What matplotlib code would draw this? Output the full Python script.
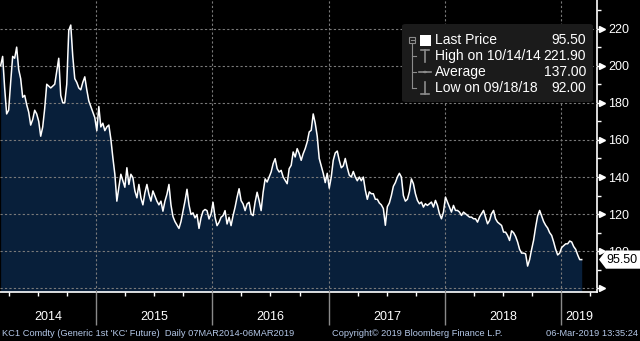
import numpy as np
import pandas as pd
import matplotlib
matplotlib.use("Agg")
import matplotlib.pyplot as plt
import matplotlib.dates as mdates
import matplotlib.transforms as mtransforms
from matplotlib.patches import Polygon, Rectangle, FancyBboxPatch, Circle
from matplotlib.lines import Line2D

plt.rcParams['font.family'] = ['Liberation Sans', 'DejaVu Sans']

# KC1 Comdty closes, sampled at an even step from 07MAR2014 to 06MAR2019
price = [
    200, 205, 188, 174, 176, 191, 205, 204, 210, 198, 193, 183, 184, 179, 175, 168, 171, 176, 174, 170,
    162, 167, 177, 190, 189, 188, 189, 190, 197, 204, 184, 180, 180, 190, 219, 221.9, 205, 193, 191, 188,
    187, 191, 194, 187, 181, 178, 175, 172, 165, 178,
    167, 169, 165, 167, 168, 160.5, 150.5, 141.5, 127, 134.5, 141.5, 138, 134.5, 145, 136, 141.5, 139.7,
    132.5, 128.8, 136, 128.8, 125, 131.5, 136, 130.7, 127, 132.5, 129.8, 127, 125, 127, 121.6, 127, 130.7,
    136, 125, 118.7, 116, 114.1, 112.3, 116, 121.6, 127, 133.4, 125, 119.8, 120.7, 118, 119.8, 112.3, 118,
    121.6, 122.5,
    121.9, 117.4, 120.1, 126.4, 118.3, 113.8, 115.6, 118.3, 119.2, 121.9, 114.7, 118.3, 113.8, 119.2, 123.7,
    129.1, 133.7, 127.3, 125.5, 121.9, 125.5, 126.4, 120.1, 119.2, 126.4, 131.8, 127.3, 121.9, 131.8, 139,
    137.3, 140, 142.7, 147.2, 149.9, 144.5, 142.7, 143.6, 140, 138.2, 136.4, 144.5, 146.3, 153.5, 150.8,
    155.3, 152.6, 149, 152.6, 155.3, 158.9, 164.3, 165.2,
    174, 169, 162, 150, 146, 142, 137, 142, 134, 140, 149, 153, 154, 149, 145, 146, 150, 145, 141, 140,
    143, 140, 138, 140, 138, 140, 133, 128, 132, 131, 131, 128, 128, 126, 125, 123, 114, 124, 126, 130,
    135, 137, 140, 142, 140, 130, 127, 128, 132, 139,
    136.4, 131, 127.4, 125.6, 126.5, 123.8, 125.6, 124.7, 125.6, 126.5, 123.8, 127.4, 124.7, 120.2, 117.5,
    121.1, 129.2, 126.5, 123.8, 121.1, 124.7, 122, 122, 121.1, 119.3, 121.1, 120.2, 119.3, 118.4, 118.4,
    117.5, 117.5, 115.7, 118.4, 120.2, 122, 118.4, 114.8, 116.6, 120.2, 122, 117.5, 115.7, 114.8, 113.9,
    110.3, 110.3, 108.5, 105.8,
    111, 110, 108, 105, 101, 99, 99, 98.6, 92, 95.5, 101, 106, 113, 119, 122, 119, 116, 114, 112.5, 110,
    108.5, 105, 101, 98, 99, 102, 103, 104, 104, 105.5, 105, 102.5, 101, 98, 95.5, 95.5,
]
start, end = pd.Timestamp("2014-03-07"), pd.Timestamp("2019-03-06")
dates = pd.to_datetime(np.linspace(start.value, end.value, len(price)))

years = ["2014", "2015", "2016", "2017", "2018", "2019"]
y_major = [80, 100, 120, 140, 160, 180, 200, 220]
y_labels = ["", "100", "120", "140", "160", "180", "200", "220"]
y_minor = [90, 110, 130, 150, 170, 190, 210, 230]

legend_names = ["Last Price", "High on 10/14/14", "Average", "Low on 09/18/18"]
legend_values = [price[-1], max(price), 137.00, min(price)]

W, H = 640, 341
fig = plt.figure(figsize=(W / 100, H / 100), dpi=100, facecolor="black")
ax = fig.add_axes([0, 49.3 / H, 597 / W, 291.7 / H])
ax.set_facecolor("black")

ylo, yhi = 78.2, 235.4
xlo, xhi = pd.Timestamp("2014-03-05"), pd.Timestamp("2019-04-23")
ax.set_ylim(ylo, yhi)
ax.set_xlim(xlo, xhi)

ax.fill_between(dates, price, ylo, color="#081f3a", lw=0, zorder=1)
ax.plot(dates, price, color="white", lw=1.1, zorder=3)

# grid sits over the area fill
ax.set_axisbelow(False)
ax.grid(True, which="major", color="#7a7a7a", ls=(0, (2, 2)), lw=0.8)

for s in ["left", "top"]:
    ax.spines[s].set_visible(False)
for s in ["right", "bottom"]:
    ax.spines[s].set_color("white")
    ax.spines[s].set_linewidth(1.2)

# y axis on the right
ax.yaxis.tick_right()
ax.set_yticks(y_major)
ax.set_yticklabels(y_labels)
ax.set_yticks(y_minor, minor=True)
ax.tick_params(axis="y", which="major", length=0, pad=8, labelsize=9, labelcolor="white")
ax.tick_params(axis="y", which="minor", length=3, width=1, color="white", direction="out")
tri_tf = mtransforms.blended_transform_factory(ax.transAxes, ax.transData)
ax.plot([1.0 + 5 / 597] * len(y_major), y_major, ls="none", marker=">", ms=5,
        color="white", transform=tri_tf, clip_on=False, zorder=4)
for v in y_major:
    ax.add_line(Line2D([1.0, 1.0 + 4 / 597], [v, v], color="white", lw=1,
                       transform=tri_tf, clip_on=False))

# x axis: year separators and quarter ticks
ax.xaxis.set_major_locator(mdates.YearLocator())
ax.xaxis.set_minor_locator(mdates.MonthLocator(bymonth=[4, 7, 10]))
ax.tick_params(axis="x", which="major", length=24, width=1, color="#8a8a8a", labelbottom=False)
ax.tick_params(axis="x", which="minor", length=3, width=1, color="white")

lab_tf = mtransforms.blended_transform_factory(ax.transData, ax.transAxes)
for yr in years:
    a = max(pd.Timestamp(f"{yr}-01-01"), xlo)
    b = min(pd.Timestamp(f"{int(yr) + 1}-01-01"), xhi)
    mid = a + (b - a) / 2
    ax.text(mid, -0.086, yr, transform=lab_tf, ha="center", va="center",
            color="white", fontsize=9)

# last price marker on the right axis
last = price[-1]
hh = 4.9
box = Polygon([(1.0 + 2 / 597, last), (1.0 + 9 / 597, last + hh), (1.0 + 44 / 597, last + hh),
               (1.0 + 44 / 597, last - hh), (1.0 + 9 / 597, last - hh)],
              closed=True, fc="white", ec="none", transform=tri_tf, clip_on=False, zorder=10)
ax.add_patch(box)
ax.text(1.0 + 9.5 / 597, last, f"{last:.2f}", transform=tri_tf, ha="left", va="center",
        color="black", fontsize=9, zorder=11, clip_on=False)


def fx(x):
    return x / W


def fy(y):
    return 1 - y / H


# legend panel
fig.patches.append(FancyBboxPatch((fx(402), fy(102)), fx(593) - fx(402), fy(24) - fy(102),
                                  boxstyle="round,pad=0,rounding_size=0.006",
                                  transform=fig.transFigure, fc="#1b1b1b", ec="none", zorder=5))
grey = "#8c8c8c"
rows = [40, 56, 72, 88]
fig.lines.append(Line2D([fx(412), fx(412)], [fy(44), fy(88)], color=grey, lw=0.8,
                        transform=fig.transFigure, zorder=6))
for r in rows[1:]:
    fig.lines.append(Line2D([fx(412), fx(416)], [fy(r), fy(r)], color=grey, lw=0.8,
                            transform=fig.transFigure, zorder=6))
fig.patches.append(Rectangle((fx(409), fy(43)), fx(6), fy(0) - fy(6), fc="none", ec=grey, lw=0.8,
                             transform=fig.transFigure, zorder=6))
fig.lines.append(Line2D([fx(410.5), fx(413.5)], [fy(40), fy(40)], color=grey, lw=0.8,
                        transform=fig.transFigure, zorder=6))
fig.patches.append(Rectangle((fx(419.5), fy(45.5)), fx(11), fy(0) - fy(11), fc="white", ec="none",
                             transform=fig.transFigure, zorder=6))
icon = [
    ([421, 429], [50, 50]), ([425, 425], [50, 62]),
    ([419, 431], [72, 72]),
    ([425, 425], [82, 94]), ([421, 429], [94, 94]),
]
for xs, ys in icon:
    fig.lines.append(Line2D([fx(v) for v in xs], [fy(v) for v in ys], color=grey, lw=1.2,
                            transform=fig.transFigure, zorder=6))
fig.patches.append(Circle((fx(425), fy(72)), 0.0035, fc=grey, ec="none",
                          transform=fig.transFigure, zorder=7))
for r, name, val in zip(rows, legend_names, legend_values):
    fig.text(fx(435), fy(r), name, color="white", fontsize=10, ha="left", va="center", zorder=8)
    fig.text(fx(586), fy(r), f"{val:.2f}", color="white", fontsize=10, ha="right", va="center", zorder=8)

# footer
foot = "#b4c8e8"
fig.text(fx(2), fy(334), "KC1 Comdty (Generic 1st 'KC' Future)  Daily 07MAR2014-06MAR2019",
         color=foot, fontsize=6.7, ha="left", va="center")
fig.text(fx(332), fy(334), "Copyright© 2019 Bloomberg Finance L.P.",
         color=foot, fontsize=6.7, ha="left", va="center")
fig.text(fx(638), fy(334), "06-Mar-2019 13:35:24",
         color=foot, fontsize=6.7, ha="right", va="center")

fig.savefig("out.png", dpi=100, facecolor="black")
